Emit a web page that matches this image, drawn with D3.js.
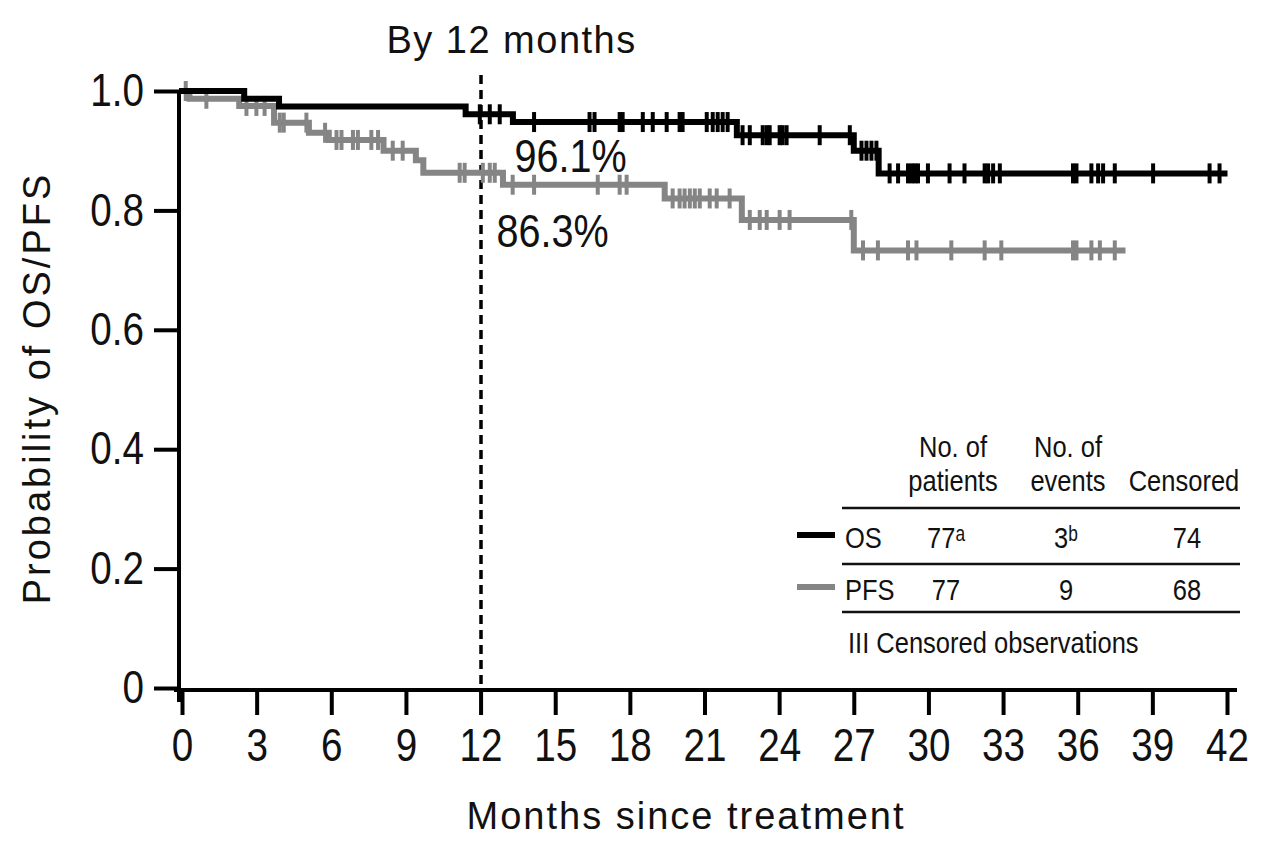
<!DOCTYPE html>
<html>
<head>
<meta charset="utf-8">
<script src="https://cdn.jsdelivr.net/npm/d3@7"></script>
<style>
body { margin: 0; background: #fff; }
svg { display: block; }
.plain { font-family: "Liberation Sans", Arial, sans-serif; }
</style>
</head>
<body>
<div id="chart"></div>
<script>
// axis ticks
var monthTicks = [0, 3, 6, 9, 12, 15, 18, 21, 24, 27, 30, 33, 36, 39, 42];
var probTicks = [0, 0.2, 0.4, 0.6, 0.8, 1.0];

// OS curve: step times (months) and survival after each step
var osTimes = [0, 2.5, 3.9, 11.4, 13.3, 22.3, 27.0, 28.0, 41.9];
var osSurv = [1.0, 0.987, 0.974, 0.961, 0.948, 0.926, 0.900, 0.862, 0.862];
var osCensored = [11.97, 12.37, 12.77,
    14.15, 16.38, 16.58, 17.59, 17.71, 18.52, 18.92, 19.48, 20.0, 20.12, 21.09, 21.33, 21.53, 21.73, 21.93,
    22.53, 22.82, 23.34, 23.5, 23.62, 24.02, 24.14, 24.3, 25.63, 26.84,
    27.31, 27.51, 27.71, 27.91,
    28.44, 28.78, 29.18, 29.32, 29.45, 29.58, 29.98, 30.85, 31.45, 32.26, 32.4, 32.6, 32.87,
    35.81, 35.95, 36.55, 36.82, 37.02, 37.49, 39.03, 41.3, 41.7];

// PFS curve
var pfsTimes = [0, 0.3, 2.3, 3.7, 5.1, 5.9, 8.1, 9.4, 9.7, 12.9, 19.4, 22.5, 27.0, 37.8];
var pfsSurv = [1.0, 0.987, 0.975, 0.947, 0.930, 0.918, 0.900, 0.884, 0.863, 0.843, 0.820, 0.784, 0.733, 0.733];
var pfsCensored = [0.15, 0.98, 2.59, 2.99, 3.32, 3.93, 4.09, 5.0, 5.75,
    6.21, 6.41, 6.87, 7.07, 7.61, 7.88, 8.47, 8.87,
    11.16, 11.36, 12.09, 12.37, 12.57,
    13.29, 14.15, 16.71, 17.59, 17.87,
    19.72, 20.0, 20.2, 20.41, 20.61, 20.81, 21.21, 21.49, 22.01,
    22.82, 23.22, 23.5, 24.02, 24.42, 26.9,
    27.37, 27.97, 29.18, 29.52, 30.92, 32.26, 32.93, 35.81, 35.95, 36.55, 36.89, 37.49];

// summary table
var rowNames = ["OS", "PFS"];
var rowColors = ["#000000", "#858585"];
var nPatients = ["77ᵃ", "77"];
var nEvents = ["3ᵇ", "9"];
var nCensored = ["74", "68"];

var landmark = 12;
var landmarkLabels = ["96.1%", "86.3%"];

var width = 1280, height = 862;

var svg = d3.select("#chart").append("svg")
    .attr("width", width)
    .attr("height", height);

var x = d3.scaleLinear().domain([0, 42]).range([182, 1227]);
var y = d3.scaleLinear().domain([0, 1]).range([688, 91]);

function survAt(times, surv, t) {
    var i = d3.bisectRight(times, t) - 1;
    return surv[Math.max(0, i)];
}

// the original uses a condensed face; squeeze Liberation Sans horizontally
function squeeze(sel, k) {
    sel.each(function () {
        var w = this.getComputedTextLength();
        d3.select(this).attr("textLength", w * k).attr("lengthAdjust", "spacingAndGlyphs");
    });
}

// landmark dashed line
svg.append("line")
    .attr("x1", Math.round(x(landmark))).attr("x2", Math.round(x(landmark)))
    .attr("y1", 75).attr("y2", y(0))
    .attr("stroke", "#000")
    .attr("stroke-width", 3.5)
    .attr("stroke-dasharray", "9,6");

// axes
var yAxis = svg.append("g")
    .attr("transform", "translate(" + (x(0) - 3) + ",0)")
    .call(d3.axisLeft(y).tickValues(probTicks).tickSize(25).tickPadding(10)
        .tickFormat(function (d) { return d === 0 ? "0" : d3.format(".1f")(d); }));

var xAxis = svg.append("g")
    .attr("transform", "translate(0," + (y(0) + 2) + ")")
    .call(d3.axisBottom(x).tickValues(monthTicks).tickSize(25).tickPadding(13));

[yAxis, xAxis].forEach(function (g) {
    g.attr("font-family", null).attr("font-size", null);
    g.select(".domain").remove();
    g.selectAll(".tick line").attr("stroke", "#000").attr("stroke-width", 4);
    g.selectAll(".tick text")
        .attr("class", "plain")
        .attr("fill", "#111")
        .style("font-size", "46px")
        .call(squeeze, 0.84);
});

svg.append("line")
    .attr("x1", x(0) - 3).attr("x2", x(0) - 3)
    .attr("y1", y(1)).attr("y2", y(0) + 14)
    .attr("stroke", "#000").attr("stroke-width", 4);

svg.append("line")
    .attr("x1", x(0) - 8).attr("x2", x(42) + 10)
    .attr("y1", y(0) + 2).attr("y2", y(0) + 2)
    .attr("stroke", "#000").attr("stroke-width", 4);

// curves
var line = d3.line()
    .x(function (d) { return x(d[0]); })
    .y(function (d) { return y(d[1]); })
    .curve(d3.curveStepAfter);

var series = [
    {times: pfsTimes, surv: pfsSurv, cens: pfsCensored, color: rowColors[1]},
    {times: osTimes, surv: osSurv, cens: osCensored, color: rowColors[0]}
];

series.forEach(function (s) {
    var pts = s.times.map(function (t, i) { return [t, s.surv[i]]; });
    svg.append("path")
        .attr("d", line(pts))
        .attr("fill", "none")
        .attr("stroke", s.color)
        .attr("stroke-width", 6)
        .attr("stroke-linecap", "square");

    svg.selectAll(null)
        .data(s.cens)
        .enter().append("line")
        .attr("x1", function (d) { return x(d); })
        .attr("x2", function (d) { return x(d); })
        .attr("y1", function (d) { return y(survAt(s.times, s.surv, d)) - 10; })
        .attr("y2", function (d) { return y(survAt(s.times, s.surv, d)) + 10; })
        .attr("stroke", s.color)
        .attr("stroke-width", 4);
});

// landmark labels
svg.append("text")
    .attr("class", "plain")
    .attr("x", x(landmark) + 34).attr("y", 172)
    .style("font-size", "46px")
    .attr("fill", "#111")
    .text(landmarkLabels[0])
    .call(squeeze, 0.86);

svg.append("text")
    .attr("class", "plain")
    .attr("x", x(landmark) + 16).attr("y", 247)
    .style("font-size", "46px")
    .attr("fill", "#111")
    .text(landmarkLabels[1])
    .call(squeeze, 0.86);

svg.append("text")
    .attr("class", "plain")
    .attr("x", x(landmark) + 31).attr("y", 53)
    .attr("text-anchor", "middle")
    .style("font-size", "38px")
    .style("letter-spacing", "1.5px")
    .attr("fill", "#111")
    .text("By 12 months");

// axis titles
svg.append("text")
    .attr("class", "plain")
    .attr("x", 686).attr("y", 829)
    .attr("text-anchor", "middle")
    .style("font-size", "38px")
    .style("letter-spacing", "2px")
    .attr("fill", "#111")
    .text("Months since treatment");

svg.append("text")
    .attr("class", "plain")
    .attr("transform", "translate(50,388) rotate(-90)")
    .attr("text-anchor", "middle")
    .style("font-size", "38px")
    .style("letter-spacing", "3px")
    .attr("fill", "#111")
    .text("Probability of OS/PFS");

// table
var colX = [946, 1066, 1187];
var table = svg.append("g").attr("class", "plain").style("font-size", "30px").attr("fill", "#111");

table.append("text").attr("x", 953).attr("y", 457).attr("text-anchor", "middle").text("No. of");
table.append("text").attr("x", 953).attr("y", 491).attr("text-anchor", "middle").text("patients");
table.append("text").attr("x", 1068).attr("y", 457).attr("text-anchor", "middle").text("No. of");
table.append("text").attr("x", 1068).attr("y", 491).attr("text-anchor", "middle").text("events");
table.append("text").attr("x", 1184).attr("y", 491).attr("text-anchor", "middle").text("Censored");

[508, 564, 612].forEach(function (ry) {
    table.append("line")
        .attr("x1", 842).attr("x2", 1240)
        .attr("y1", ry).attr("y2", ry)
        .attr("stroke", "#111").attr("stroke-width", 2.5);
});

rowNames.forEach(function (name, i) {
    var by = 548 + i * 52;
    table.append("line")
        .attr("x1", 797).attr("x2", 835)
        .attr("y1", by - 13).attr("y2", by - 13)
        .attr("stroke", rowColors[i]).attr("stroke-width", 6);
    table.append("text").attr("x", 845).attr("y", by).text(name);
    table.append("text").attr("x", colX[0]).attr("y", by).attr("text-anchor", "middle").text(nPatients[i]);
    table.append("text").attr("x", colX[1]).attr("y", by).attr("text-anchor", "middle").text(nEvents[i]);
    table.append("text").attr("x", colX[2]).attr("y", by).attr("text-anchor", "middle").text(nCensored[i]);
});

table.append("text").attr("x", 848).attr("y", 653).text("III Censored observations");

table.selectAll("text").call(squeeze, 0.85);
</script>
</body>
</html>
